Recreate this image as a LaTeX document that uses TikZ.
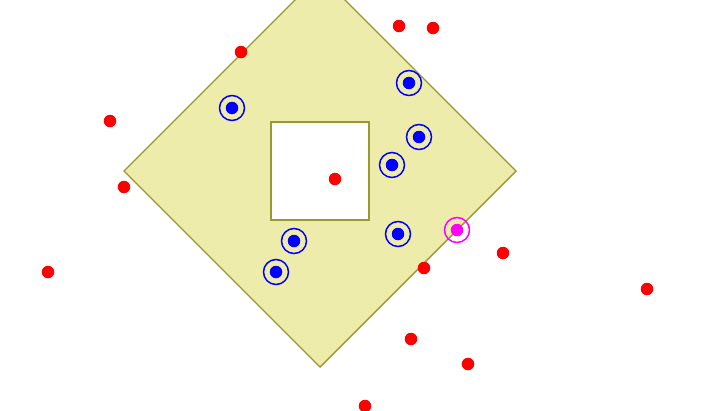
\documentclass[tikz,border=0pt]{standalone}
\usepackage{tikz}
\usetikzlibrary{positioning}
\definecolor{region-fill}{RGB}{238,236,170}
\definecolor{region-edge}{RGB}{153,153,51}
\definecolor{hit-blue}{RGB}{0,0,255}
\definecolor{miss-red}{RGB}{255,0,0}
\definecolor{edge-pink}{RGB}{255,0,255}
\tikzstyle{region} = [draw=region-edge, fill=region-fill, line width=1.4pt, line join=miter]
\tikzstyle{hole} = [draw=region-edge, fill=white, line width=2pt]
\tikzstyle{outpt} = [circle, fill=miss-red, inner sep=0pt, minimum size=12.5pt]
\tikzstyle{inpt} = [circle, fill=hit-blue, inner sep=0pt, minimum size=12.5pt]
\tikzstyle{inring} = [circle, draw=hit-blue, line width=1.5pt, inner sep=0pt, minimum size=25pt]
\tikzstyle{onpt} = [circle, fill=edge-pink, inner sep=0pt, minimum size=12.5pt]
\tikzstyle{onring} = [circle, draw=edge-pink, line width=1.5pt, inner sep=0pt, minimum size=25pt]

\begin{document}
\begin{tikzpicture}[x=1pt, y=-1pt]

    % ===============================
    % 1. CANVAS AND REGION
    % ===============================
    \useasboundingbox (0,0) rectangle (720,410);

    % Outer diamond
    \coordinate (dtop) at (320,-25);
    \coordinate (dright) at (516,171);
    \coordinate (dbottom) at (320,367);
    \coordinate (dleft) at (124,171);
    \begin{scope}
        \clip (0,0) rectangle (720,410);
        \draw[region] (dtop) -- (dright) -- (dbottom) -- (dleft) -- cycle;
    \end{scope}

    % Square hole
    \draw[hole] (271,122) rectangle (369,220);

    % ===============================
    % 2. POINTS OUTSIDE (red)
    % ===============================
    \node[outpt] (out1) at (241,52) {};
    \node[outpt] (out2) at (399,26) {};
    \node[outpt] (out3) at (433,28) {};
    \node[outpt] (out4) at (110,121) {};
    \node[outpt] (out5) at (124,187) {};
    \node[outpt] (out6) at (335,179) {};
    \node[outpt] (out7) at (48,272) {};
    \node[outpt] (out8) at (503,253) {};
    \node[outpt] (out9) at (424,268) {};
    \node[outpt] (out10) at (647,289) {};
    \node[outpt] (out11) at (411,339) {};
    \node[outpt] (out12) at (468,364) {};
    \node[outpt] (out13) at (365,406) {};

    % ===============================
    % 3. POINTS INSIDE (blue, ringed)
    % ===============================
    \foreach \name/\px/\py in {in1/232/108, in2/409/83, in3/419/137,
        in4/392/165, in5/398/234, in6/294/241, in7/276/272}{
        \node[inring] (\name-ring) at (\px,\py) {};
        \node[inpt] (\name) at (\px,\py) {};
    }

    % ===============================
    % 4. POINT ON THE BOUNDARY (magenta)
    % ===============================
    \node[onring] (on1-ring) at (457,230) {};
    \node[onpt] (on1) at (457,230) {};

\end{tikzpicture}
\end{document}
